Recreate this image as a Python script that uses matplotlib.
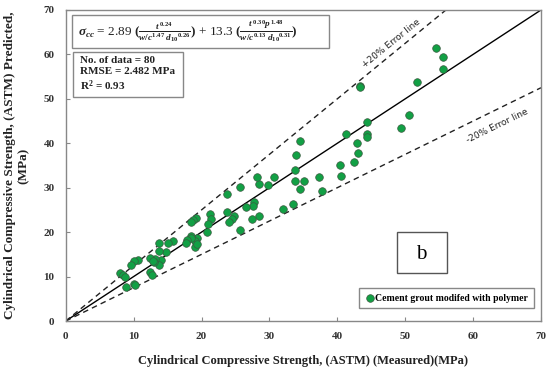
import matplotlib
matplotlib.use("Agg")
import matplotlib.pyplot as plt
from matplotlib.patches import Rectangle
import numpy as np

measured = [54.6, 55.5, 55.5, 51.7, 43.3, 43.4, 50.5, 49.4, 44.4, 41.3, 44.4, 44.4, 42.9, 43.0,
            42.5, 40.4, 40.6, 34.5, 33.9, 33.7, 33.8, 35.1, 34.5, 37.3, 37.7, 33.5, 32.0, 30.7,
            29.8, 28.4, 28.1, 25.6, 23.7, 23.7, 27.8, 27.6, 26.6, 28.4, 27.5, 24.8, 24.5, 24.1,
            25.6, 21.3, 21.4, 20.9, 20.8, 19.2, 18.8, 18.4, 19.4, 19.0, 18.5, 18.4, 17.8, 17.7,
            19.1, 15.8, 15.1, 13.7, 14.8, 13.8, 14.1, 13.8, 13.1, 13.0, 12.4, 12.4, 12.7, 10.7,
            10.1, 9.6, 8.0, 8.4, 8.7, 8.9, 10.0, 10.2, 19.3, 12.9]
predicted = [61.5, 59.5, 56.7, 53.9, 53.0, 52.6, 46.3, 43.4, 44.7, 42.1, 42.0, 41.5, 40.0, 37.9,
             35.8, 35.1, 32.7, 40.5, 37.3, 34.0, 31.6, 31.6, 29.8, 32.5, 29.3, 26.4, 25.3, 32.3,
             30.7, 30.8, 32.5, 30.2, 28.6, 24.6, 26.7, 25.8, 25.6, 23.7, 22.9, 23.6, 23.0, 22.3,
             20.5, 24.0, 23.0, 21.8, 20.1, 23.1, 22.7, 22.2, 18.6, 18.0, 19.1, 18.7, 18.3, 17.6,
             16.7, 18.0, 17.6, 17.6, 15.6, 15.8, 13.7, 12.5, 14.0, 13.3, 14.1, 11.0, 10.4, 13.8,
             13.5, 12.7, 10.8, 10.3, 9.8, 7.7, 8.3, 8.2, 17.3, 13.6]

axis_limits = [0, 70]
ticks = [0, 10, 20, 30, 40, 50, 60, 70]
upper_factor = 1.25
lower_factor = 0.75

serif = "Liberation Serif"
plt.rcParams['font.family'] = serif
plt.rcParams['mathtext.fontset'] = 'custom'
plt.rcParams['mathtext.rm'] = 'Liberation Serif:bold'
plt.rcParams['mathtext.it'] = 'Liberation Serif:italic:bold'
plt.rcParams['mathtext.bf'] = 'Liberation Serif:bold'

fig = plt.figure(figsize=(5.5, 3.74), dpi=100)
ax = fig.add_axes([0.1195, 0.1417, 0.8641, 0.8316])

line_x = np.array(axis_limits, dtype=float)
ax.plot(line_x, line_x, color='black', lw=1.0, zorder=2)
ax.plot(line_x, upper_factor * line_x, color='#222222', lw=1.0, ls=(0, (4, 3)), zorder=2)
ax.plot(line_x, lower_factor * line_x, color='#222222', lw=1.0, ls=(0, (4, 3)), zorder=2)

ax.scatter(measured, predicted, s=30, color='#12a045', edgecolor='#3a5a40', linewidth=0.5,
           zorder=3, label='Cement grout modifed with polymer')

ax.set_xlim(axis_limits)
ax.set_ylim(axis_limits)
ax.set_xticks(ticks)
ax.set_yticks(ticks)
ax.tick_params(direction='in', length=3, color='#888888', labelsize=8, labelcolor='#333333', pad=8)
for lab in ax.get_xticklabels() + ax.get_yticklabels():
    lab.set_fontweight('bold')
for sp in ax.spines.values():
    sp.set_color('#888888')
    sp.set_linewidth(1.0)

ax.set_xlabel('Cylindrical Compressive Strength, (ASTM) (Measured)(MPa)', fontsize=9,
              fontweight='bold', color='#222222', labelpad=10)
ax.set_ylabel('Cylindrical Compressive Strength, (ASTM) Predicted,\n(MPa)', fontsize=9.5,
              fontweight='bold', color='#222222', labelpad=10, linespacing=1.15)

# equation box
ax.add_patch(Rectangle((0.0126, 0.878), 0.541, 0.106, transform=ax.transAxes,
                       fc='white', ec='#888888', lw=1.0, zorder=4))
eq = (r'$\sigma_{cc}$ = 2.89 $(\frac{t^{\,0.24}}{w/c^{1.47}\ d_{10}{}^{0.26}})$ + 13.3 '
      r'$(\frac{t^{\,0.30}p^{\,1.48}}{w/c^{0.13}\ d_{10}{}^{0.31}})$')
ax.text(0.025, 0.931, eq, transform=ax.transAxes, fontsize=9.5, va='center', ha='left',
        color='#222222', zorder=5)

# statistics box
ax.add_patch(Rectangle((0.0147, 0.720), 0.233, 0.145, transform=ax.transAxes,
                       fc='white', ec='#888888', lw=1.0, zorder=4))
ax.text(0.029, 0.793, 'No. of data = 80\nRMSE = 2.482 MPa\nR$^2$ = 0.93', transform=ax.transAxes,
        fontsize=8, fontweight='bold', va='center', ha='left', linespacing=1.2,
        color='#222222', zorder=5)

# panel label box
ax.add_patch(Rectangle((0.697, 0.154), 0.105, 0.132, transform=ax.transAxes,
                       fc='white', ec='#555555', lw=1.0, zorder=4))
ax.text(0.749, 0.215, 'b', transform=ax.transAxes, fontsize=15, va='center', ha='center',
        zorder=5)

ax.text(48.0, 62.5, '+20% Error line', rotation=39, fontsize=6.5, family='DejaVu Sans',
        ha='center', va='center', color='#222222', rotation_mode='anchor')
ax.text(63.5, 43.8, '-20% Error line', rotation=26, fontsize=6.5, family='DejaVu Sans',
        ha='center', va='center', color='#222222', rotation_mode='anchor')

leg = ax.legend(loc='lower right', bbox_to_anchor=(0.995, 0.025), fontsize=7,
                prop={'family': serif, 'weight': 'bold', 'size': 7},
                handletextpad=0.05, handlelength=1.0, borderpad=0.6, fancybox=False,
                framealpha=1, edgecolor='#888888')
leg.get_frame().set_linewidth(1.0)

fig.savefig('out.png', dpi=100)
